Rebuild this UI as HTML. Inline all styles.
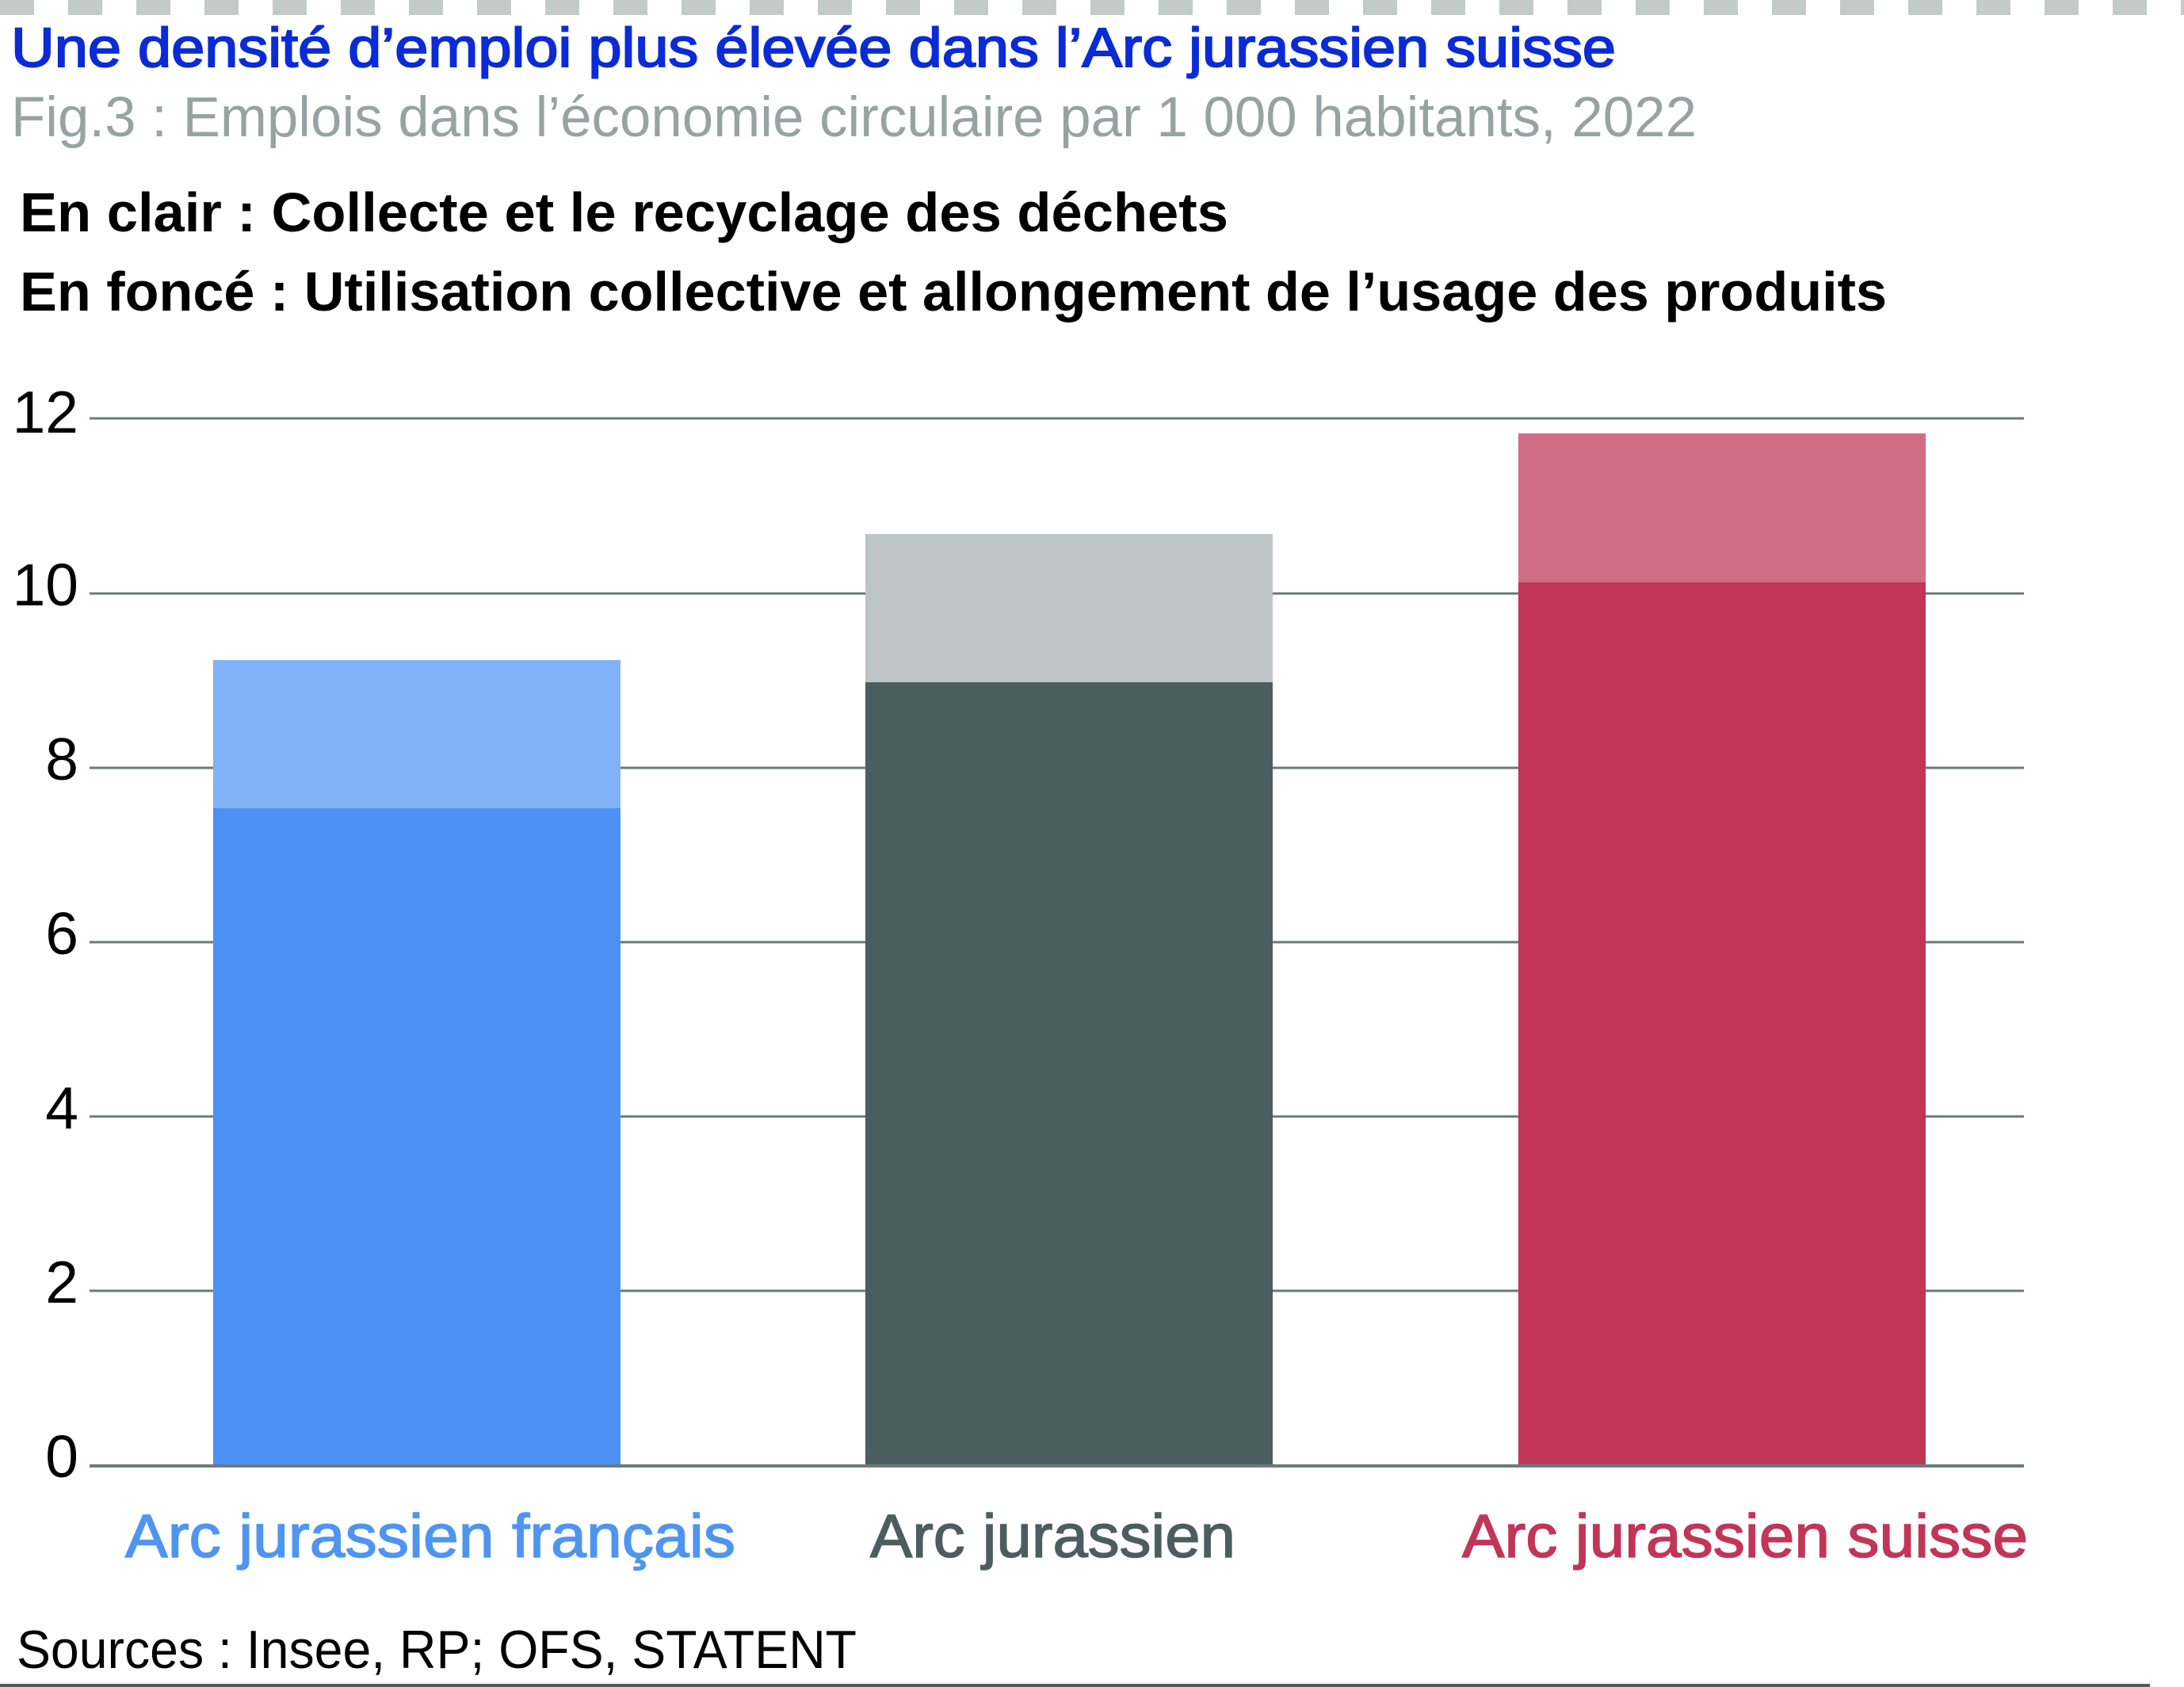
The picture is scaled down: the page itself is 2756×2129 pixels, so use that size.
<!DOCTYPE html>
<html><head><meta charset="utf-8"><style>html,body{margin:0;padding:0;background:#fff}svg{display:block}</style></head>
<body>
<svg width="2756" height="2129" viewBox="0 0 2756 2129" xmlns="http://www.w3.org/2000/svg" font-family="Liberation Sans, Arial, sans-serif">
<line x1="0" y1="9.5" x2="2756" y2="9.5" stroke="#c3cbc9" stroke-width="19" stroke-dasharray="43 43"/>
<text x="14" y="84" font-size="70" fill="#0a2bd6" stroke="#0a2bd6" stroke-width="2" textLength="2025" lengthAdjust="spacingAndGlyphs">Une densité d’emploi plus élevée dans l’Arc jurassien suisse</text>
<text x="14" y="172" font-size="71" fill="#97a3a2" textLength="2127" lengthAdjust="spacingAndGlyphs">Fig.3 : Emplois dans l’économie circulaire par 1 000 habitants, 2022</text>
<text x="25" y="292" font-size="70" font-weight="bold" fill="#000" textLength="1525" lengthAdjust="spacingAndGlyphs">En clair : Collecte et le recyclage des déchets</text>
<text x="25" y="392" font-size="70" font-weight="bold" fill="#000" textLength="2356" lengthAdjust="spacingAndGlyphs">En foncé : Utilisation collective et allongement de l’usage des produits</text>
<g stroke="#6b7a7a" stroke-width="3">
<line x1="113" y1="528" x2="2554" y2="528"/>
<line x1="113" y1="749" x2="2554" y2="749"/>
<line x1="113" y1="969" x2="2554" y2="969"/>
<line x1="113" y1="1189" x2="2554" y2="1189"/>
<line x1="113" y1="1409" x2="2554" y2="1409"/>
<line x1="113" y1="1629" x2="2554" y2="1629"/>
</g>
<g font-size="75" fill="#000" text-anchor="end">
<text x="99" y="546">12</text>
<text x="99" y="764">10</text>
<text x="99" y="984">8</text>
<text x="99" y="1204">6</text>
<text x="99" y="1424">4</text>
<text x="99" y="1644">2</text>
<text x="99" y="1864">0</text>
</g>
<rect x="269" y="833" width="514" height="187" fill="#81b1f7"/>
<rect x="269" y="1020" width="514" height="830" fill="#4a91f3"/>
<rect x="1092" y="674" width="514" height="187" fill="#bec5c6"/>
<rect x="1092" y="861" width="514" height="989" fill="#4c5d60"/>
<rect x="1916" y="547" width="514" height="188" fill="#d06e86"/>
<rect x="1916" y="735" width="514" height="1115" fill="#c13556"/>
<line x1="113" y1="1850" x2="2554" y2="1850" stroke="#6b7a7a" stroke-width="4"/>
<text x="158" y="1965" font-size="77" fill="#4f95f0" stroke="#4f95f0" stroke-width="1.5" textLength="770" lengthAdjust="spacingAndGlyphs">Arc jurassien français</text>
<text x="1098" y="1965" font-size="77" fill="#4c5d60" stroke="#4c5d60" stroke-width="1.5" textLength="461" lengthAdjust="spacingAndGlyphs">Arc jurassien</text>
<text x="1845" y="1965" font-size="77" fill="#c13556" stroke="#c13556" stroke-width="1.5" textLength="714" lengthAdjust="spacingAndGlyphs">Arc jurassien suisse</text>
<text x="21" y="2105" font-size="68" fill="#000" textLength="1060" lengthAdjust="spacingAndGlyphs">Sources : Insee, RP; OFS, STATENT</text>
<rect x="0" y="2125" width="2713" height="4" fill="#4c5d60"/>
</svg>
</body></html>
